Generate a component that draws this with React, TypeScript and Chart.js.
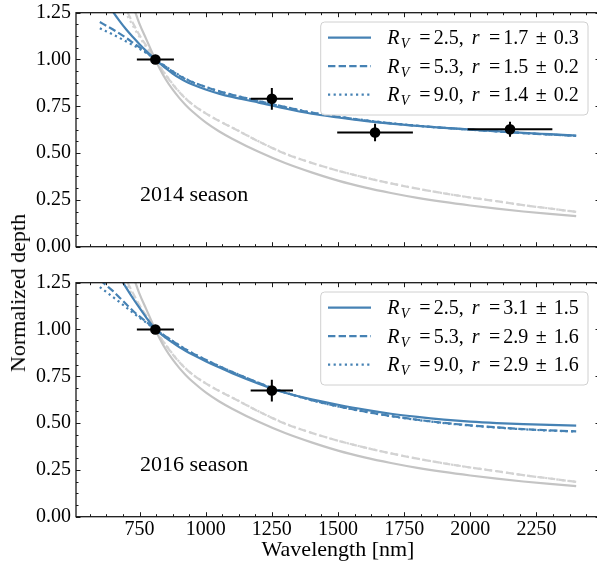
import React, { useEffect, useRef } from "react";
import { Chart, registerables } from "chart.js";

Chart.register(...registerables);

// ---------- data ----------
const WAVELENGTH = [600, 625, 650, 675, 700, 725, 750, 775, 800, 825, 850, 875, 900, 925, 950, 1000, 1050, 1100, 1200, 1300, 1400, 1500, 1600, 1700, 1800, 1900, 2000, 2100, 2200, 2300, 2400];

// grey reference curves (same in both panels)
const GREY_RV25 = [1.85, 1.72, 1.61, 1.5, 1.4, 1.29, 1.19, 1.11, 1.03, 0.955, 0.892, 0.84, 0.795, 0.756, 0.722, 0.664, 0.617, 0.577, 0.507, 0.447, 0.397, 0.353, 0.317, 0.287, 0.261, 0.239, 0.22, 0.203, 0.188, 0.175, 0.163];
const GREY_RV53 = [1.62, 1.52, 1.43, 1.34, 1.265, 1.195, 1.13, 1.075, 1.025, 0.965, 0.915, 0.868, 0.826, 0.79, 0.76, 0.712, 0.672, 0.636, 0.562, 0.497, 0.448, 0.406, 0.37, 0.338, 0.31, 0.285, 0.263, 0.243, 0.222, 0.204, 0.186];
const GREY_RV90 = [1.56, 1.47, 1.39, 1.315, 1.245, 1.18, 1.12, 1.068, 1.022, 0.966, 0.917, 0.87, 0.828, 0.791, 0.761, 0.713, 0.673, 0.637, 0.563, 0.498, 0.448, 0.406, 0.37, 0.338, 0.31, 0.285, 0.263, 0.243, 0.222, 0.204, 0.186];

// 2014 season fits
const FIT2014_RV25 = [1.37, 1.31, 1.255, 1.205, 1.16, 1.12, 1.082, 1.046, 1.013, 0.982, 0.952, 0.925, 0.902, 0.882, 0.866, 0.84, 0.818, 0.8, 0.77, 0.738, 0.71, 0.69, 0.672, 0.657, 0.645, 0.635, 0.626, 0.617, 0.608, 0.601, 0.594];
const FIT2014_RV53 = [1.2, 1.18, 1.16, 1.138, 1.115, 1.09, 1.065, 1.04, 1.012, 0.985, 0.96, 0.936, 0.914, 0.895, 0.879, 0.853, 0.83, 0.811, 0.778, 0.746, 0.716, 0.694, 0.675, 0.659, 0.646, 0.635, 0.625, 0.616, 0.607, 0.599, 0.592];
const FIT2014_RV90 = [1.167, 1.15, 1.133, 1.115, 1.096, 1.077, 1.057, 1.035, 1.01, 0.986, 0.962, 0.938, 0.916, 0.897, 0.88, 0.854, 0.831, 0.812, 0.779, 0.747, 0.717, 0.695, 0.676, 0.66, 0.646, 0.635, 0.625, 0.616, 0.607, 0.599, 0.592];

// 2016 season fits
const FIT2016_RV25 = [1.47, 1.405, 1.34, 1.28, 1.222, 1.167, 1.115, 1.065, 1.019, 0.983, 0.955, 0.93, 0.906, 0.885, 0.866, 0.831, 0.798, 0.767, 0.711, 0.662, 0.627, 0.598, 0.572, 0.55, 0.533, 0.519, 0.508, 0.5, 0.494, 0.49, 0.487];
const FIT2016_RV53 = [1.265, 1.235, 1.205, 1.17, 1.135, 1.1, 1.07, 1.042, 1.013, 0.986, 0.962, 0.938, 0.915, 0.893, 0.873, 0.838, 0.804, 0.773, 0.715, 0.664, 0.623, 0.59, 0.562, 0.538, 0.518, 0.501, 0.488, 0.477, 0.468, 0.461, 0.456];
const FIT2016_RV90 = [1.227, 1.2, 1.173, 1.146, 1.118, 1.09, 1.063, 1.037, 1.011, 0.986, 0.963, 0.939, 0.916, 0.894, 0.874, 0.839, 0.805, 0.774, 0.715, 0.664, 0.622, 0.589, 0.561, 0.537, 0.517, 0.5, 0.487, 0.476, 0.467, 0.46, 0.455];

// observations
const OBS2014_WL = [810, 1250, 1640, 2150];
const OBS2014_WL_ERR = [70, 80, 143, 160];
const OBS2014_DEPTH = [1.0, 0.79, 0.61, 0.627];
const OBS2014_DEPTH_ERR = [0, 0.058, 0.047, 0.04];

const OBS2016_WL = [810, 1250];
const OBS2016_WL_ERR = [70, 80];
const OBS2016_DEPTH = [1.0, 0.674];
const OBS2016_DEPTH_ERR = [0, 0.058];

// legend text
const RV_LABELS = ["2.5", "5.3", "9.0"];
const R2014 = ["1.7", "1.5", "1.4"];
const R2014_ERR = ["0.3", "0.2", "0.2"];
const R2016 = ["3.1", "2.9", "2.9"];
const R2016_ERR = ["1.5", "1.6", "1.6"];

// axes
const X_TICKS = [750, 1000, 1250, 1500, 1750, 2000, 2250];
const Y_TICKS = [0, 0.25, 0.5, 0.75, 1.0, 1.25];
const X_MIN = 510;
const X_MAX = 2490;
const Y_MIN = 0;
const Y_MAX = 1.25;

// ---------- styling ----------
const FAMILY = "'Liberation Serif', 'DejaVu Serif', serif";
const BLUE = "#4682b4";
const GREY_SOLID = "#c4c4c4";
const GREY_LIGHT = "#d3d3d3";
const DASH = [7.4, 3.2];
const DOT = [2.2, 3.4];
const LINE_STYLES = [[], DASH, DOT];

const pairs = (xs: number[], ys: number[]) => xs.map((x, i) => ({ x, y: ys[i] }));

function lineDs(ys: number[], color: string, dash: number[]) {
  return {
    data: pairs(WAVELENGTH, ys),
    showLine: true,
    borderColor: color,
    backgroundColor: color,
    borderWidth: 2.2,
    borderDash: dash,
    pointRadius: 0,
    pointHoverRadius: 0,
    fill: false,
    tension: 0.4,
    cubicInterpolationMode: "monotone",
    capBezierPoints: false,
    clip: 0,
  };
}

function drawMath(ctx: CanvasRenderingContext2D, x: number, y: number, rv: string, r: string, err: string) {
  ctx.fillStyle = "#000";
  ctx.textBaseline = "alphabetic";
  const put = (t: string, style: string, size: number, px: number, dy = 0, align: CanvasTextAlign = "left") => {
    ctx.font = `${style} ${size}px ${FAMILY}`;
    ctx.textAlign = align;
    ctx.fillText(t, x + px, y + dy);
  };
  put("R", "italic", 20, 0);
  put("V", "italic", 14, 13.5, 4);
  put("=", "normal", 20, 37.7, 0, "center");
  put(rv + ",", "normal", 20, 46.5);
  put("r", "italic", 20, 84.4);
  put("=", "normal", 20, 107.3, 0, "center");
  put(r, "normal", 20, 116);
  put("\u00b1", "normal", 20, 154, 0, "center");
  put(err, "normal", 20, 166.5);
}

interface PanelCfg {
  padTop: number;
  xAxisHeight: number;
  showXLabels: boolean;
  season: string;
  fits: number[][];
  obsWl: number[];
  obsWlErr: number[];
  obsDepth: number[];
  obsDepthErr: number[];
  rVals: string[];
  rErrs: string[];
}

function makePanel(canvas: HTMLCanvasElement, cfg: PanelCfg) {
  const errPlugin = {
    id: "errbars",
    beforeDatasetDraw(chart: any, args: any) {
      if (args.index !== 0) return;
      const { ctx, scales } = chart;
      const xs = scales.x, ys = scales.y;
      ctx.save();
      ctx.strokeStyle = "#000";
      ctx.lineWidth = 2;
      cfg.obsWl.forEach((w, i) => {
        const d = cfg.obsDepth[i];
        const px = xs.getPixelForValue(w);
        const py = ys.getPixelForValue(d);
        ctx.beginPath();
        ctx.moveTo(xs.getPixelForValue(w - cfg.obsWlErr[i]), py);
        ctx.lineTo(xs.getPixelForValue(w + cfg.obsWlErr[i]), py);
        if (cfg.obsDepthErr[i] > 0) {
          ctx.moveTo(px, ys.getPixelForValue(d - cfg.obsDepthErr[i]));
          ctx.lineTo(px, ys.getPixelForValue(d + cfg.obsDepthErr[i]));
        }
        ctx.stroke();
      });
      ctx.restore();
    },
  };

  const framePlugin = {
    id: "frame",
    afterDatasetsDraw(chart: any) {
      const { ctx, chartArea: a, scales } = chart;
      const xs = scales.x, ys = scales.y;
      ctx.save();
      ctx.strokeStyle = "#1a1a1a";
      ctx.lineWidth = 1;
      const xTick = (v: number, len: number) => {
        const p = Math.round(xs.getPixelForValue(v)) + 0.5;
        ctx.moveTo(p, a.bottom);
        ctx.lineTo(p, a.bottom - len);
        ctx.moveTo(p, a.top);
        ctx.lineTo(p, a.top + len);
      };
      const yTick = (v: number, len: number) => {
        const p = Math.round(ys.getPixelForValue(v)) + 0.5;
        ctx.moveTo(a.left, p);
        ctx.lineTo(a.left + len, p);
        ctx.moveTo(a.right, p);
        ctx.lineTo(a.right - len, p);
      };
      ctx.beginPath();
      X_TICKS.forEach((v) => xTick(v, 4.5));
      for (let v = 562.5; v < X_MAX; v += 62.5) if (v % 250 !== 0) xTick(v, 2.5);
      Y_TICKS.forEach((v) => yTick(v, 4.5));
      for (let v = 0.0625; v < Y_MAX; v += 0.0625) if (Math.abs(v / 0.25 - Math.round(v / 0.25)) > 1e-6) yTick(v, 2.5);
      ctx.stroke();
      ctx.lineWidth = 1.3;
      ctx.strokeRect(a.left, a.top, a.right - a.left, a.bottom - a.top);
      ctx.restore();
    },
    afterDraw(chart: any) {
      const { ctx, chartArea: a } = chart;
      ctx.save();
      ctx.fillStyle = "#000";
      ctx.font = `22px ${FAMILY}`;
      ctx.textAlign = "left";
      ctx.textBaseline = "alphabetic";
      ctx.fillText(cfg.season, 140, a.top + 188.5);
      const bx = 320.7, by = a.top + 9.3, bw = 588 - 320.7, bh = 93;
      ctx.beginPath();
      ctx.roundRect(bx, by, bw, bh, 4);
      ctx.fillStyle = "rgba(255,255,255,0.85)";
      ctx.fill();
      ctx.strokeStyle = "#d0d0d0";
      ctx.lineWidth = 1;
      ctx.stroke();
      for (let i = 0; i < 3; i++) {
        const ry = by + 15.6 + i * 28.5;
        ctx.beginPath();
        ctx.strokeStyle = BLUE;
        ctx.lineWidth = 2.2;
        ctx.setLineDash(LINE_STYLES[i]);
        ctx.moveTo(328, ry);
        ctx.lineTo(371, ry);
        ctx.stroke();
        ctx.setLineDash([]);
        drawMath(ctx, 387.3, ry + 6.5, RV_LABELS[i], cfg.rVals[i], cfg.rErrs[i]);
      }
      ctx.restore();
    },
  };

  const datasets: any[] = [
    {
      data: pairs(cfg.obsWl, cfg.obsDepth),
      showLine: false,
      pointRadius: 5.3,
      pointHoverRadius: 5.3,
      pointBackgroundColor: "#000",
      pointBorderColor: "#000",
      pointBorderWidth: 0,
    },
    lineDs(cfg.fits[0], BLUE, []),
    lineDs(cfg.fits[1], BLUE, DASH),
    lineDs(cfg.fits[2], BLUE, DOT),
    lineDs(GREY_RV25, GREY_SOLID, []),
    lineDs(GREY_RV53, GREY_LIGHT, DASH),
    lineDs(GREY_RV90, GREY_LIGHT, DOT),
  ];

  return new Chart(canvas, {
    type: "scatter",
    data: { datasets },
    options: {
      animation: false,
      responsive: false,
      devicePixelRatio: 1,
      events: [],
      layout: { padding: { top: cfg.padTop, right: 20, bottom: 0, left: 0 } },
      plugins: { legend: { display: false }, tooltip: { enabled: false } },
      scales: {
        x: {
          type: "linear",
          min: X_MIN,
          max: X_MAX,
          grid: { display: false, drawTicks: false },
          border: { display: false },
          afterBuildTicks: (s: any) => {
            s.ticks = X_TICKS.map((v) => ({ value: v }));
          },
          afterFit: (s: any) => {
            s.height = cfg.xAxisHeight;
            s.paddingLeft = 0;
            s.paddingRight = 0;
          },
          ticks: {
            display: cfg.showXLabels,
            color: "#000",
            font: { family: FAMILY, size: 20 },
            padding: 1,
            maxRotation: 0,
            autoSkip: false,
            callback: (v: any) => String(v),
          },
          title: {
            display: cfg.showXLabels,
            text: "Wavelength [nm]",
            color: "#000",
            font: { family: FAMILY, size: 22 },
            padding: { top: 0, bottom: 7 },
          },
        },
        y: {
          type: "linear",
          min: Y_MIN,
          max: Y_MAX,
          grid: { display: false, drawTicks: false },
          border: { display: false },
          afterBuildTicks: (s: any) => {
            s.ticks = Y_TICKS.map((v) => ({ value: v }));
          },
          afterFit: (s: any) => {
            s.width = 76;
            s.paddingTop = 0;
            s.paddingBottom = 0;
          },
          ticks: {
            color: "#000",
            font: { family: FAMILY, size: 20 },
            padding: 5,
            autoSkip: false,
            callback: (v: any) => Number(v).toFixed(2),
          },
        },
      },
    } as any,
    plugins: [errPlugin, framePlugin],
  } as any);
}

export default function App() {
  const topRef = useRef<HTMLCanvasElement>(null);
  const botRef = useRef<HTMLCanvasElement>(null);

  useEffect(() => {
    const c1 = makePanel(topRef.current!, {
      padTop: 12.7,
      xAxisHeight: 13.3,
      showXLabels: false,
      season: "2014 season",
      fits: [FIT2014_RV25, FIT2014_RV53, FIT2014_RV90],
      obsWl: OBS2014_WL,
      obsWlErr: OBS2014_WL_ERR,
      obsDepth: OBS2014_DEPTH,
      obsDepthErr: OBS2014_DEPTH_ERR,
      rVals: R2014,
      rErrs: R2014_ERR,
    });
    const c2 = makePanel(botRef.current!, {
      padTop: 22.7,
      xAxisHeight: 53.3,
      showXLabels: true,
      season: "2016 season",
      fits: [FIT2016_RV25, FIT2016_RV53, FIT2016_RV90],
      obsWl: OBS2016_WL,
      obsWlErr: OBS2016_WL_ERR,
      obsDepth: OBS2016_DEPTH,
      obsDepthErr: OBS2016_DEPTH_ERR,
      rVals: R2016,
      rErrs: R2016_ERR,
    });
    return () => {
      c1.destroy();
      c2.destroy();
    };
  }, []);

  return (
    <div style={{ position: "absolute", left: 0, top: 0, width: 597, height: 570, overflow: "hidden", background: "#fff" }}>
      <canvas ref={topRef} width={620} height={260} style={{ position: "absolute", left: 0, top: 0 }} />
      <canvas ref={botRef} width={620} height={310} style={{ position: "absolute", left: 0, top: 260 }} />
      <div
        style={{
          position: "absolute",
          left: 17.6,
          top: 292.5,
          transform: "translate(-50%, -50%) rotate(-90deg)",
          font: `22px ${FAMILY}`,
          lineHeight: "22px",
          whiteSpace: "nowrap",
          color: "#000",
        }}
      >
        Normalized depth
      </div>
    </div>
  );
}
